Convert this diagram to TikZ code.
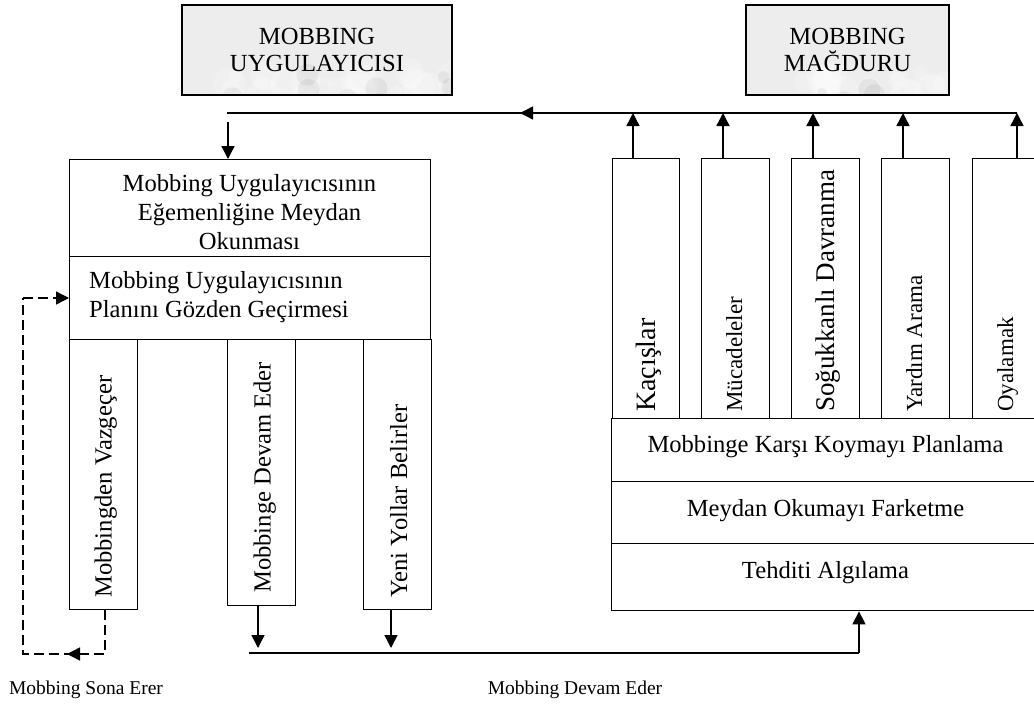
\documentclass[tikz,border=0pt]{standalone}
\usepackage{fontspec}
\setmainfont{Liberation Serif}
\usetikzlibrary{arrows.meta,calc}
\begin{document}
\begin{tikzpicture}[x=1pt,y=-1pt,
  box/.style={draw, line width=1.4pt, inner sep=0pt},
  txt/.style={font=\fontsize{24.6}{29}\selectfont, inner sep=0pt},
  vtxt/.style={font=\fontsize{24.6}{29}\selectfont, inner sep=0pt, rotate=90, anchor=base west},
  rtxt/.style={vtxt, font=\fontsize{23}{27}\selectfont},
  small/.style={font=\fontsize{19.5}{23}\selectfont, inner sep=0pt},
  ln/.style={line width=1.4pt},
  arr/.style={line width=1.4pt, -{Triangle[length=13pt,width=13pt]}},
  dsh/.style={line width=1.4pt, dash pattern=on 10pt off 5pt},
  topbox/.style={draw, line width=1.6pt, fill=gray!14, align=center,
    font=\fontsize{24.6}{27}\selectfont, inner sep=0pt,
    path picture={
      \begin{scope}[shift={(path picture bounding box.north west)}]
        \foreach \k in {1,...,90}{
          \pgfmathsetmacro{\px}{280*rnd}
          \pgfmathsetmacro{\py}{95*rnd}
          \pgfmathsetmacro{\pr}{5+14*rnd}
          \fill[white, opacity=0.2] (\px,\py) circle (\pr pt);
        }
        \foreach \k in {1,...,30}{
          \pgfmathsetmacro{\px}{280*rnd}
          \pgfmathsetmacro{\py}{95*rnd}
          \pgfmathsetmacro{\pr}{3+9*rnd}
          \fill[gray, opacity=0.1] (\px,\py) circle (\pr pt);
        }
      \end{scope}
    }}
]
\pgfmathsetseed{7}
\useasboundingbox (0,0) rectangle (1034,704);

% top boxes
\node[topbox, minimum width=270pt, minimum height=90pt] (uyg) at (317,50) {MOBBING\\UYGULAYICISI};
\node[topbox, minimum width=203pt, minimum height=90pt] (mag) at (847.5,50) {MOBBING\\MAĞDURU};

% left structure
\node[box, anchor=north west, minimum width=361pt, minimum height=97pt] (r1) at (69,159) {};
\node[box, anchor=north west, minimum width=361pt, minimum height=83pt] (r2) at (69,256) {};
\node[box, anchor=north west, minimum width=68pt, minimum height=270pt] (v1) at (69,339) {};
\node[box, anchor=north west, minimum width=68pt, minimum height=266pt] (v2) at (227,339) {};
\node[box, anchor=north west, minimum width=68pt, minimum height=270pt] (v3) at (363,339) {};

\node[txt, align=center] (r1t) at (249.5,212.5) {Mobbing Uygulayıcısının\\Eğemenliğine Meydan\\Okunması};
\node[txt, align=left, anchor=north west] (r2t) at (89,271) {Mobbing Uygulayıcısının\\Planını Gözden Geçirmesi};
\node[vtxt] (v1t) at (111.5,598) {Mobbingden Vazgeçer};
\node[vtxt] (v2t) at (270.5,593) {Mobbinge Devam Eder};
\node[vtxt] (v3t) at (407,598) {Yeni Yollar Belirler};

% right structure
\node[box, anchor=north west, minimum width=429pt, minimum height=63pt] (p1) at (611,418) {};
\node[box, anchor=north west, minimum width=429pt, minimum height=62pt] (p2) at (611,481) {};
\node[box, anchor=north west, minimum width=429pt, minimum height=67pt] (p3) at (611,543) {};
\node[box, anchor=north west, minimum width=67pt, minimum height=260pt] (k1) at (612,158) {};
\node[box, anchor=north west, minimum width=68pt, minimum height=260pt] (k2) at (701,158) {};
\node[box, anchor=north west, minimum width=68pt, minimum height=260pt] (k3) at (791,158) {};
\node[box, anchor=north west, minimum width=68pt, minimum height=260pt] (k4) at (881,158) {};
\node[box, anchor=north west, minimum width=68pt, minimum height=260pt] (k5) at (972,158) {};

\node[txt, anchor=base] (p1t) at (825.5,452) {Mobbinge Karşı Koymayı Planlama};
\node[txt, anchor=base] (p2t) at (825.5,516) {Meydan Okumayı Farketme};
\node[txt, anchor=base] (p3t) at (825.5,578) {Tehditi Algılama};

\node[rtxt, font=\fontsize{28}{32}\selectfont] (k1t) at (655,412) {Kaçışlar};
\node[rtxt] (k2t) at (742,412) {Mücadeleler};
\node[rtxt, font=\fontsize{27}{31}\selectfont] (k3t) at (834,412) {Soğukkanlı Davranma};
\node[rtxt] (k4t) at (922,412) {Yardım Arama};
\node[rtxt] (k5t) at (1013,412) {Oyalamak};

% top connector
\coordinate (tl) at (227,113);
\coordinate (tm) at (520,113);
\coordinate (tr) at (1017,113);
\coordinate (a1) at (633,113);
\coordinate (a2) at (723,113);
\coordinate (a3) at (813,113);
\coordinate (a4) at (903,113);
\coordinate (a5) at (1017,113);
\draw[ln] (tr) -- (tm);
\draw[arr] ($(tm)+(20,0)$) -- (tm);
\draw[ln] (tm) -- (tl);
\draw[arr] (k1.north -| a1) -- (a1);
\draw[arr] (k2.north -| a2) -- (a2);
\draw[arr] (k3.north -| a3) -- (a3);
\draw[arr] (k4.north -| a4) -- (a4);
\draw[arr] (k5.north -| a5) -- (a5);
\coordinate (d0) at (228,122);
\draw[arr] (d0) -- (d0 |- r1.north);

% bottom connector
\coordinate (b2) at (258,648);
\coordinate (b3) at (391,648);
\coordinate (bl) at (249,653);
\coordinate (br) at (859,653);
\draw[arr] (b2 |- v2.south) -- (b2);
\draw[arr] (b3 |- v3.south) -- (b3);
\draw[ln] (bl) -- (br);
\draw[arr] (br) -- (br |- p3.south);

% dashed return
\coordinate (s1) at (105,654);
\coordinate (sm) at (67,654);
\coordinate (s2) at (23,654);
\coordinate (s3) at (23,298);
\draw[dsh] (s1 |- v1.south) -- (s1) -- (s2) -- (s3);
\draw[arr] ($(sm)+(12,0)$) -- (sm);
\draw[dsh, -{Triangle[length=13pt,width=13pt]}] (s3) -- (s3 -| r2.west);

% labels
\node[small] (lab1) at (86,690) {Mobbing Sona Erer};
\node[small] (lab2) at (575,690) {Mobbing Devam Eder};
\end{tikzpicture}
\end{document}
